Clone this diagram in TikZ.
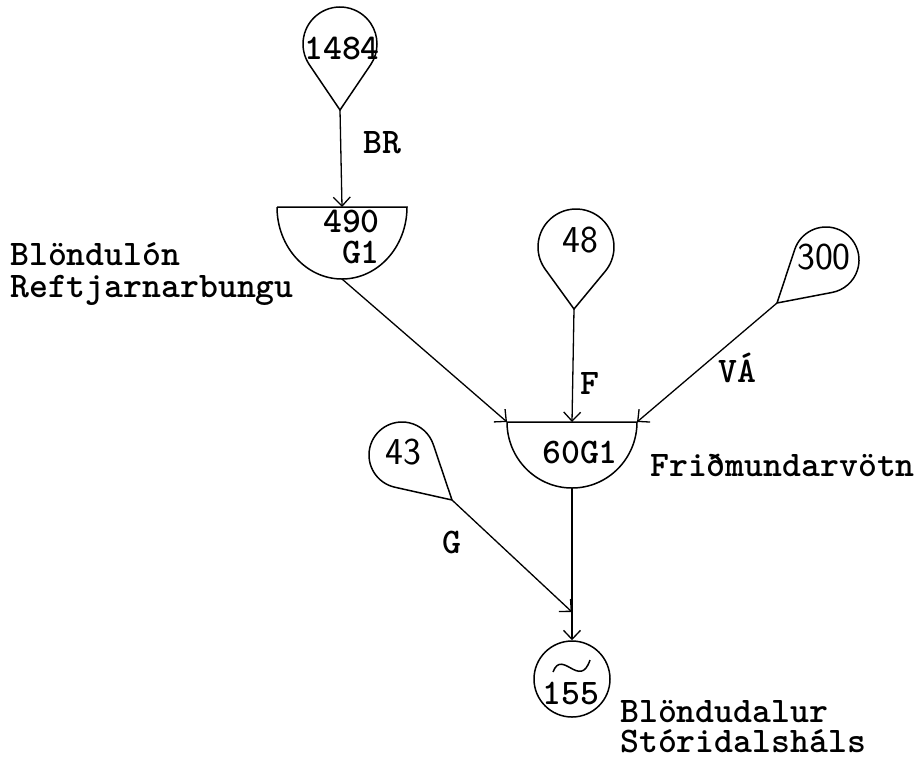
\documentclass[tikz,border=0pt]{standalone}
\usetikzlibrary{arrows.meta,calc}

\tikzset{
  line/.style={line width=1.5pt},
  flow/.style={line width=1.3pt,
               -{Straight Barb[length=9pt,width=17pt,line width=1.3pt]}},
  lbl/.style={font=\fontsize{36}{32}\selectfont\ttfamily\bfseries,inner sep=0pt},
  num/.style={font=\fontsize{38}{38}\selectfont\sffamily,inner sep=0pt}
}

% drop shaped source: name, centre x, centre y, radius, tip x, tip y
\newcommand{\drop}[6]{%
  \pgfmathsetmacro\dropbeta{atan2(#6-#3,#5-#2)}%
  \pgfmathsetmacro\dropalpha{acos(#4/veclen(#5-#2,#6-#3))}%
  \coordinate (#1) at (#5,#6);
  \draw[line] (#1) -- ($(#2,#3)+(\dropbeta+\dropalpha:#4)$)
    arc[start angle=\dropbeta+\dropalpha,
        end angle=\dropbeta-\dropalpha+360, radius=#4] -- cycle;
}
% half circle reservoir: name, centre x, top y, x radius, y radius
\newcommand{\basin}[5]{%
  \coordinate (#1-w) at (#2-#4,#3);
  \coordinate (#1-n) at (#2,#3);
  \coordinate (#1-e) at (#2+#4,#3);
  \coordinate (#1-s) at (#2,#3+#5);
  \draw[line] (#1-w) -- (#1-e)
    arc[start angle=0, end angle=180, x radius=#4, y radius=#5];
}

\begin{document}
\begin{tikzpicture}[x=1pt,y=-1pt]
  \useasboundingbox (0,0) rectangle (920,761);

  % sources
  \drop{s1484}{340}{44}{37}{340}{110}
  \drop{s48}{576}{247}{38}{574}{309}
  \drop{s300}{826}{260}{33}{777}{303}
  \drop{s43}{402}{455}{33}{452}{500}
  \node[lbl] (t1484) at (342,48) {1484};
  \node[num] (t48) at (580,240) {48};
  \node[num] (t300) at (824,257) {300};
  \node[num] (t43) at (403,452) {43};

  % reservoirs
  \basin{r490}{342}{207}{65}{72}
  \basin{r60}{572}{422}{65}{66}
  \node[lbl,anchor=base east] (t490) at (380,232) {490};
  \node[lbl,anchor=base east] (tG1) at (380,263) {G1};
  \node[lbl] (t60) at (580,452) {60G1};

  % power station
  \node[draw,line,circle,minimum size=76pt,inner sep=0pt] (p155) at (572,679) {};
  \node[lbl] (t155) at (571,693) {155};
  \draw[line] (553,672) .. controls (562,648) and (580,690) .. (590,660);
  \coordinate (join) at (572,612);

  % flows
  \draw[flow] (s1484) -- (r490-n);
  \draw[flow] (r490-s) -- (r60-w);
  \draw[flow] (s48) -- (r60-n);
  \draw[flow] (s300) -- (r60-e);
  \draw[flow] (r60-s) -- (p155);
  \draw[flow] (s43) -- (join);

  % flow names
  \node[lbl] (br) at (382,143) {BR};
  \node[lbl] (f) at (590,383) {F};
  \node[lbl] (va) at (737,368) {VÁ};
  \node[lbl] (g) at (452,542) {G};

  % place names
  \node[lbl,anchor=base west] (blondulon) at (10,265) {Blöndulón};
  \node[lbl,anchor=base west] (reftj) at (10,297) {Reftjarnarbungu};
  \node[lbl,anchor=base west] (fridmund) at (650,476) {Friðmundarvötn};
  \node[lbl,anchor=base west] (blondudalur) at (620,722) {Blöndudalur};
  \node[lbl,anchor=base west] (storidals) at (620,752) {Stóridalsháls};
\end{tikzpicture}
\end{document}
